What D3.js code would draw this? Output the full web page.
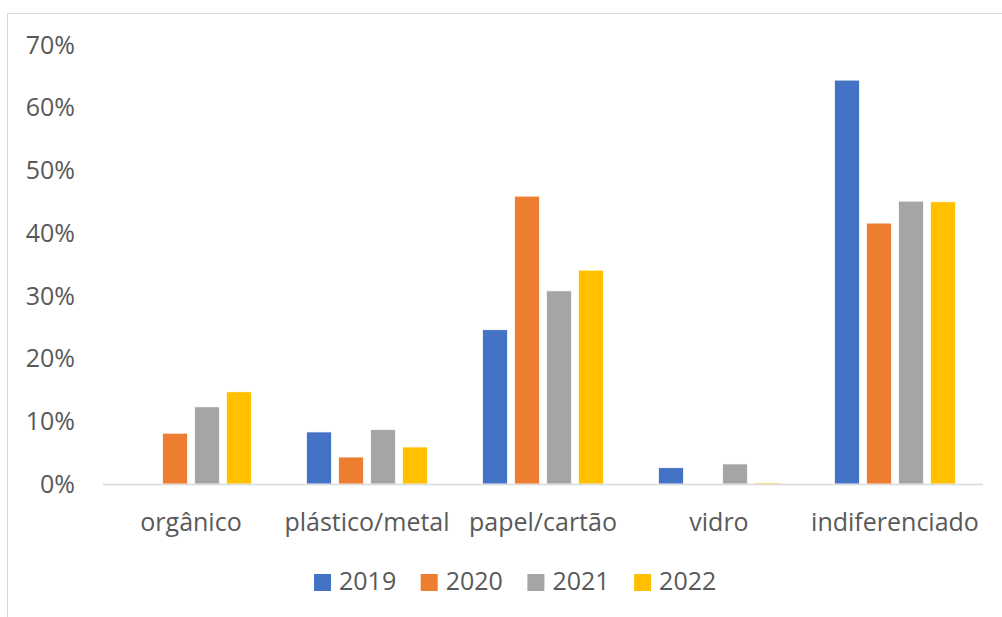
<!DOCTYPE html>
<html>
<head>
    <meta charset="utf-8">
    <script src="https://d3js.org/d3.v7.min.js"></script>
    <style>
        body { margin: 0; background: #fff; }
        text { font-family: "Open Sans", sans-serif; fill: #595959; }
    </style>
</head>
<body>
    <svg id="chart" width="1002" height="617"></svg>

    <script>
        // Data
        const categories = ["orgânico", "plástico/metal", "papel/cartão", "vidro", "indiferenciado"];
        const years = ["2019", "2020", "2021", "2022"];
        const values2019 = [0, 0.083, 0.246, 0.026, 0.644];
        const values2020 = [0.081, 0.043, 0.459, 0, 0.416];
        const values2021 = [0.123, 0.087, 0.308, 0.032, 0.451];
        const values2022 = [0.147, 0.059, 0.341, 0.002, 0.450];
        const yTicks = [0, 0.1, 0.2, 0.3, 0.4, 0.5, 0.6, 0.7];
        const colors = ["#4472c4", "#ed7d31", "#a5a5a5", "#ffc000"];

        const series = [values2019, values2020, values2021, values2022];

        const svg = d3.select("#chart");

        // Chart frame (runs off the right and bottom edges)
        svg.append("rect")
            .attr("x", 7.5).attr("y", 13.5)
            .attr("width", 1100).attr("height", 700)
            .attr("fill", "none")
            .attr("stroke", "#d9d9d9");

        const plot = { left: 103, right: 983, top: 45, bottom: 484 };

        const y = d3.scaleLinear()
            .domain([0, 0.7])
            .range([plot.bottom, plot.top]);

        const x0 = d3.scaleBand()
            .domain(categories)
            .range([plot.left, plot.right]);

        const x1 = d3.scaleBand()
            .domain(years)
            .range([0, x0.bandwidth()])
            .paddingInner(0.22)
            .paddingOuter(0.86);

        // y labels
        svg.append("g")
            .selectAll("text")
            .data(yTicks)
            .join("text")
                .attr("x", 75)
                .attr("y", d => y(d))
                .attr("dy", "0.35em")
                .attr("text-anchor", "end")
                .style("font-size", "25px")
                .text(d3.format(".0%"));

        // bars
        const groups = svg.append("g")
            .selectAll("g")
            .data(categories)
            .join("g")
                .attr("transform", d => `translate(${x0(d)},0)`);

        groups.selectAll("rect")
            .data((c, i) => years.map((yr, j) => ({ year: yr, value: series[j][i], color: colors[j] })))
            .join("rect")
                .attr("x", d => x1(d.year))
                .attr("width", x1.bandwidth())
                .attr("y", d => y(d.value))
                .attr("height", d => y(0) - y(d.value))
                .attr("fill", d => d.color)
                .attr("stroke", "#fff")
                .attr("stroke-width", 0.75);

        // baseline
        svg.append("line")
            .attr("x1", plot.left).attr("x2", plot.right)
            .attr("y1", y(0) + 0.5).attr("y2", y(0) + 0.5)
            .attr("stroke", "#d9d9d9")
            .attr("stroke-width", 1.5);

        // category labels
        svg.append("g")
            .selectAll("text")
            .data(categories)
            .join("text")
                .attr("x", d => x0(d) + x0.bandwidth() / 2)
                .attr("y", 531)
                .attr("text-anchor", "middle")
                .style("font-size", "25px")
                .text(d => d);

        // legend
        const legend = svg.append("g")
            .selectAll("g")
            .data(years)
            .join("g")
                .attr("transform", (d, i) => `translate(${314 + i * 106.7},574)`);

        legend.append("rect")
            .attr("width", 17).attr("height", 17)
            .attr("fill", (d, i) => colors[i]);

        legend.append("text")
            .attr("x", 25)
            .attr("y", 16)
            .style("font-size", "25px")
            .text(d => d);
    </script>
</body>
</html>
